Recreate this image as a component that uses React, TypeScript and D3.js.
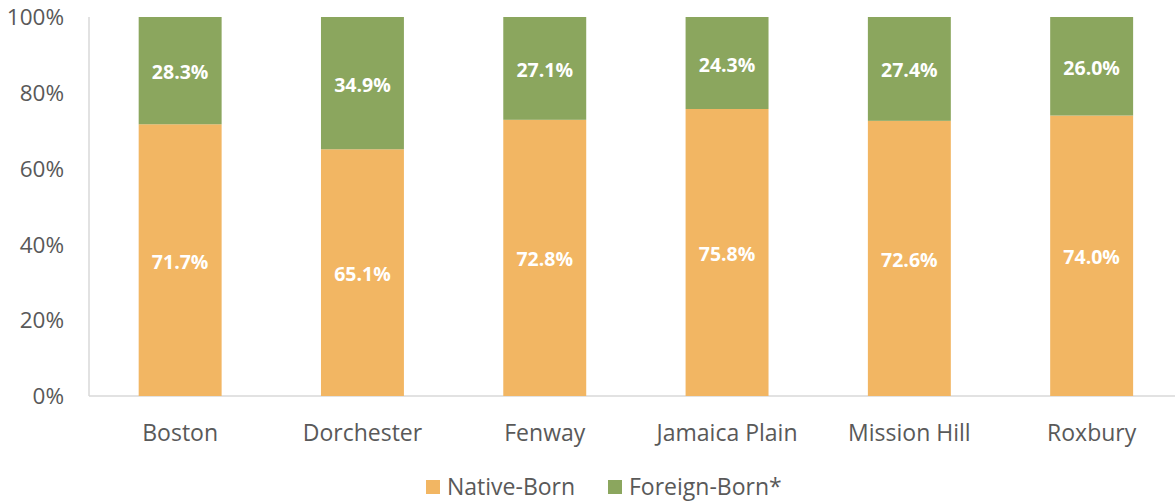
import * as React from "react";
import { useRef, useEffect } from "react";
import * as d3 from "d3";

const categories = ["Boston", "Dorchester", "Fenway", "Jamaica Plain", "Mission Hill", "Roxbury"];
const nativeBorn = [71.7, 65.1, 72.8, 75.8, 72.6, 74.0];
const foreignBorn = [28.3, 34.9, 27.1, 24.3, 27.4, 26.0];
const yTicks = [0, 0.2, 0.4, 0.6, 0.8, 1];
const seriesNames = ["Native-Born", "Foreign-Born*"];
const colors = ["#F2B663", "#8BA65E"];

export default function App() {
  const ref = useRef<SVGSVGElement>(null);

  useEffect(() => {
    const svg = d3.select(ref.current);
    svg.selectAll("*").remove();
    const font = "'Open Sans', 'Liberation Sans', sans-serif";

    const left = 89;
    const step = 182.3;
    const top = 17;
    const bottom = 396;

    const x = d3
      .scaleBand()
      .domain(categories)
      .range([left, left + step * categories.length])
      .paddingInner(0.545)
      .paddingOuter(0.2725);
    const y = d3.scaleLinear().domain([0, 1]).range([bottom, top]);

    const rows = categories.map((c, i) => ({ cat: c, native: nativeBorn[i], foreign: foreignBorn[i] }));
    const stack = d3.stack<any>().keys(["native", "foreign"]).offset(d3.stackOffsetExpand);
    const series = stack(rows);

    // axes lines
    svg.append("line").attr("x1", left).attr("x2", left).attr("y1", top).attr("y2", bottom)
      .attr("stroke", "#d9d9d9").attr("stroke-width", 1.5);
    svg.append("line").attr("x1", left).attr("x2", 1175).attr("y1", bottom).attr("y2", bottom)
      .attr("stroke", "#d9d9d9").attr("stroke-width", 1.5);

    // y tick labels
    svg.append("g").selectAll("text").data(yTicks).join("text")
      .attr("x", 64).attr("y", (d) => y(d)).attr("dy", "0.36em")
      .attr("text-anchor", "end").attr("font-family", font).attr("font-size", 22.5)
      .attr("fill", "#595959").text((d) => d3.format(".0%")(d));

    // bars
    series.forEach((s, si) => {
      const raw = si === 0 ? nativeBorn : foreignBorn;
      const g = svg.append("g");
      g.selectAll("rect").data(s).join("rect")
        .attr("x", (d: any) => x(d.data.cat)!)
        .attr("width", x.bandwidth())
        .attr("y", (d) => y(d[1]))
        .attr("height", (d) => y(d[0]) - y(d[1]))
        .attr("fill", colors[si]);
      g.selectAll("text").data(s).join("text")
        .attr("x", (d: any) => x(d.data.cat)! + x.bandwidth() / 2)
        .attr("y", (d) => (y(d[0]) + y(d[1])) / 2 + 1.5)
        .attr("dy", "0.36em")
        .attr("text-anchor", "middle")
        .attr("font-family", font).attr("font-size", 19.5).attr("font-weight", "bold")
        .attr("fill", "#ffffff")
        .text((d, i) => raw[i].toFixed(1) + "%");
    });

    // x labels
    svg.append("g").selectAll("text").data(categories).join("text")
      .attr("x", (d) => x(d)! + x.bandwidth() / 2).attr("y", 441)
      .attr("text-anchor", "middle").attr("font-family", font).attr("font-size", 23)
      .attr("fill", "#595959").text((d) => d);

    // legend
    const legendX = [426, 608];
    seriesNames.forEach((n, i) => {
      svg.append("rect").attr("x", legendX[i]).attr("y", 480).attr("width", 14).attr("height", 14)
        .attr("fill", colors[i]);
      svg.append("text").attr("x", legendX[i] + 21).attr("y", 495)
        .attr("font-family", font).attr("font-size", 23).attr("fill", "#595959").text(n);
    });
  }, []);

  return (
    <svg ref={ref} width={1175} height={504} style={{ position: "absolute", left: 0, top: 0, background: "#fff" }} />
  );
}
